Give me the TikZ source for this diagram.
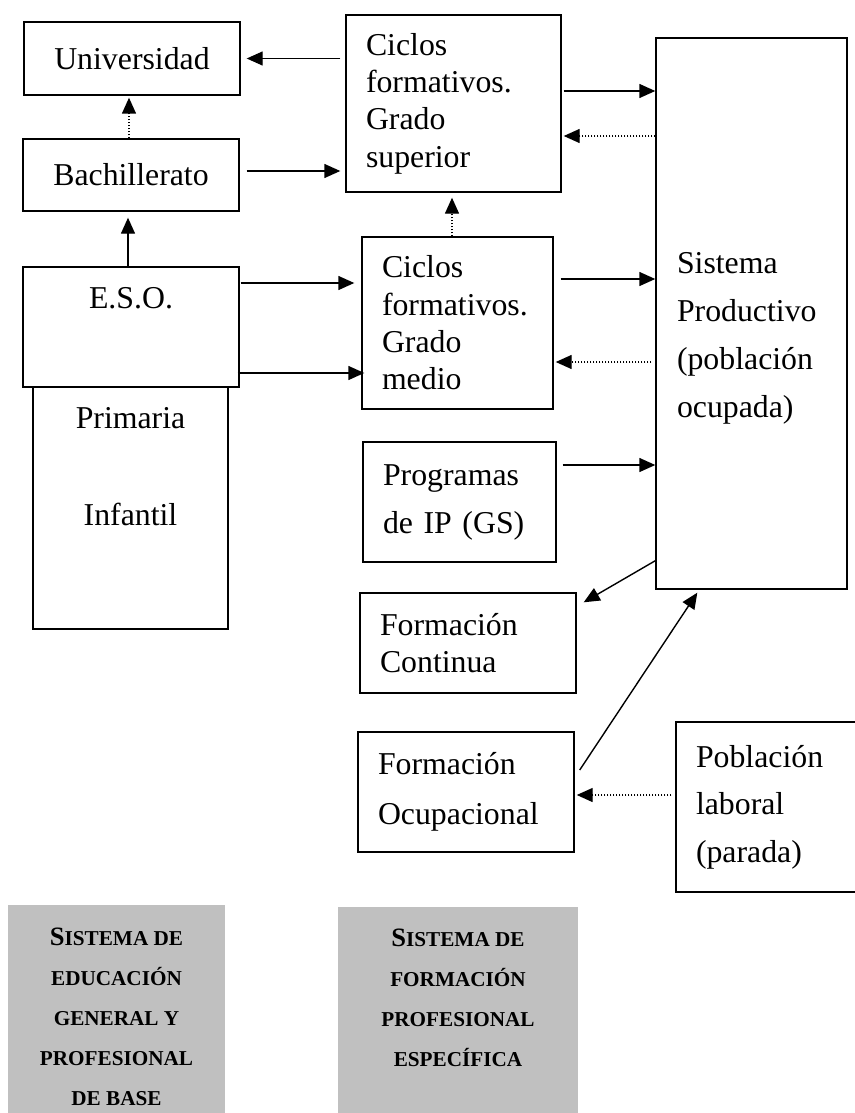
\documentclass[tikz,border=0pt]{standalone}
\usepackage{fontspec}
\setmainfont{Liberation Serif}
\usepackage{xcolor}
\usepackage{tikz}
\usetikzlibrary{arrows.meta,positioning,calc}

\definecolor{gris}{HTML}{C0C0C0}
\newcommand{\mayus}[1]{{\fontsize{13.25}{20}\selectfont #1}}

\tikzset{
  caja/.style={draw, line width=0.7pt, inner sep=0pt, font=\fontsize{15.9}{18.7}\selectfont},
  izq/.style={caja, align=left, inner xsep=10pt, text width=#1},
  holgado/.style={font=\fontsize{15.9}{24}\selectfont},
  flecha/.style={-{Triangle[length=8pt,width=7pt]}, line width=0.7pt},
  punteada/.style={flecha, dash pattern=on 0.7pt off 0.8pt},
  bloque/.style={fill=gris, inner sep=0pt, align=center, font=\bfseries\fontsize{10.6}{20}\selectfont}
}

\begin{document}
\begin{tikzpicture}[x=0.5pt, y=-0.5pt]
  \useasboundingbox (0,0) rectangle (855,1113);
  \clip (0,0) rectangle (855,1113);
  % educación general
  \node[caja, minimum width=108pt, minimum height=36.5pt] (univ) at (132,58.5) {Universidad};
  \node[caja, minimum width=108pt, minimum height=36pt] (bach) at (131,175) {Bachillerato};
  \node[caja, minimum width=97.5pt, minimum height=121pt] (prim) at (130.5,508) {};
  \node[caja, minimum width=108pt, minimum height=60pt] (eso) at (131,327) {};
  \node[caja, draw=none, anchor=north] (esotxt) at ($(eso.north)+(0,20)$) {E.S.O.};
  \node[caja, draw=none, anchor=north, align=center, font=\fontsize{15.9}{48.5}\selectfont]
       (primtxt) at ($(prim.north)+(0,20)$) {Primaria\\Infantil};
  % formación profesional específica
  \node[izq=87.5pt, minimum height=88.5pt] (cfs) at (453.5,103.5) {Ciclos\\formativos.\\Grado\\superior};
  \node[izq=75.5pt, minimum height=86pt] (cfm) at (457.5,323) {Ciclos\\formativos.\\Grado\\medio};
  \node[izq=76.5pt, holgado, minimum height=60pt] (prog) at (459.5,502) {Programas\\de IP (GS)};
  \node[izq=88pt, minimum height=50pt] (fc) at (468,643) {Formación\\Continua};
  \node[izq=88pt, font=\fontsize{15.9}{25}\selectfont, minimum height=60pt] (fo) at (466,792) {Formación\\Ocupacional};
  % mercado de trabajo
  \node[caja, minimum width=95.5pt, minimum height=275.5pt] (sp) at (751.5,313.5) {};
  \node[caja, holgado, draw=none, anchor=north west, align=left]
       (sptxt) at ($(sp.north west)+(21,214)$) {Sistema\\Productivo\\(población\\ocupada)};
  \node[izq=88pt, font=\fontsize{15.9}{23.75}\selectfont, minimum height=85pt] (pl) at (784,807) {Población\\laboral\\(parada)};
  % rótulos grises
  \node[bloque, minimum width=108.5pt, minimum height=111pt, anchor=north] (g1) at (116.5,905)
       {\mayus{S}ISTEMA DE\\EDUCACIÓN\\GENERAL Y\\PROFESIONAL\\DE BASE};
  \node[bloque, minimum width=120pt, minimum height=110pt, anchor=north] (g2) at (458,907)
       {\mayus{S}ISTEMA DE\\FORMACIÓN\\PROFESIONAL\\ESPECÍFICA\\ \mbox{}};
  % flechas
  \draw[flecha, shorten <=2.5pt, shorten >=3pt] (cfs.west |- univ.east) -- (univ.east);
  \draw[flecha, shorten <=3.5pt, shorten >=2.5pt] ($(bach.east)+(0,-4)$) -- ($(cfs.west |- bach.east)+(0,-4)$);
  \draw[punteada, shorten >=1pt] ($(bach.north)+(-2,0)$) -- ($(univ.south -| bach.north)+(-2,0)$);
  \draw[flecha, shorten >=3pt] ($(eso.north)+(-3,0)$) -- ($(bach.south -| eso.north)+(-3,0)$);
  \draw[flecha, shorten <=0.5pt, shorten >=3.5pt] ($(eso.east)+(0,-44)$) -- ($(cfm.west |- eso.east)+(0,-44)$);
  \draw[flecha] ($(eso.east)+(-2,46)$) -- ($(cfm.west |- eso.east)+(3,46)$);
  \draw[punteada, shorten >=2.5pt] ($(cfm.north)+(-5.5,0)$) -- ($(cfs.south -| cfm.north)+(-5.5,0)$);
  \draw[flecha, shorten <=1pt] ($(cfs.east)+(0,-12.5)$) -- ($(sp.west |- cfs.east)+(0,-12.5)$);
  \draw[punteada, shorten >=1pt] ($(sp.west |- cfs.east)+(0,32.5)$) -- ($(cfs.east)+(0,32.5)$);
  \draw[flecha, shorten <=3.5pt] ($(cfm.east)+(0,-44)$) -- ($(sp.west |- cfm.east)+(0,-44)$);
  \draw[punteada, shorten <=2pt, shorten >=1pt] ($(sp.west |- cfm.east)+(0,39)$) -- ($(cfm.east)+(0,39)$);
  \draw[flecha, shorten <=3pt] ($(prog.east)+(0,-37)$) -- ($(sp.west |- prog.east)+(0,-37)$);
  \draw[flecha] ($(sp.south west)+(0,-29)$) -- ($(fc.north east)+(7,10)$);
  \draw[flecha] ($(fo.east)+(5,-22)$) -- ($(sp.south west)+(42,3)$);
  \draw[punteada, shorten <=2pt, shorten >=1pt] ($(pl.west)+(0,-12)$) -- ($(fo.east |- pl.west)+(0,-12)$);
\end{tikzpicture}
\end{document}
